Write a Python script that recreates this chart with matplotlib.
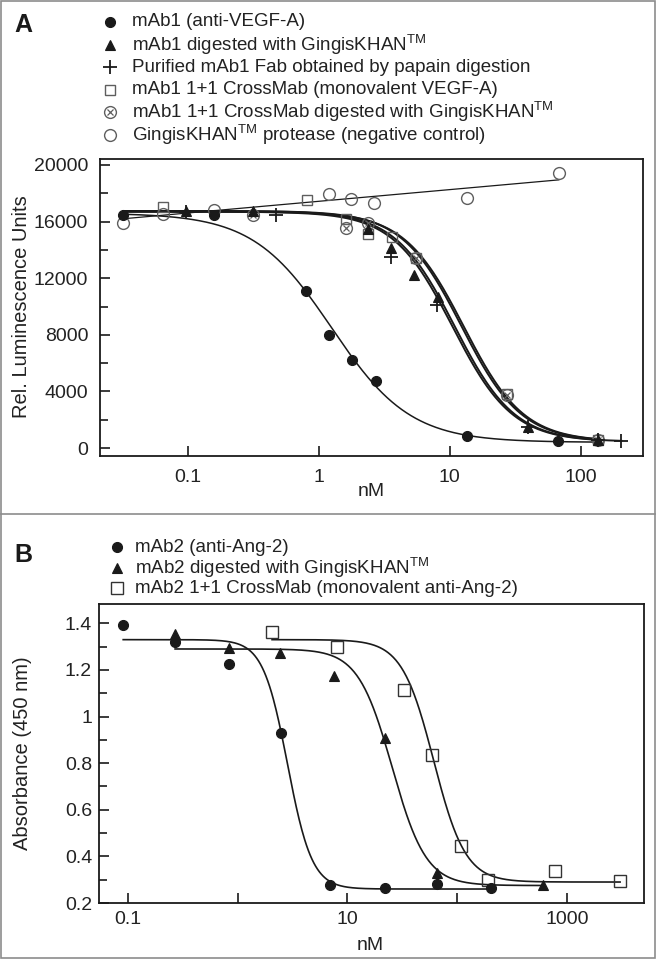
import matplotlib
matplotlib.use('Agg')
import matplotlib.pyplot as plt
from matplotlib.lines import Line2D
from matplotlib.patches import Rectangle
from matplotlib.ticker import FixedLocator, MultipleLocator, NullLocator
import numpy as np

plt.rcParams['font.family'] = ['Liberation Sans', 'DejaVu Sans']
plt.rcParams['mathtext.fontset'] = 'custom'
plt.rcParams['mathtext.rm'] = 'Liberation Sans'
plt.rcParams['mathtext.it'] = 'Liberation Sans:italic'
plt.rcParams['mathtext.bf'] = 'Liberation Sans:bold'

# --- palette ---
INK   = '#1a1a1a'
GREY  = '#5e5e5e'
FRAME = '#8c8c8c'
W, H  = 657, 960

# ---------------- Panel A data (nM vs RLU) ----------------
a_mab1_x = [0.032, 0.158, 0.80, 1.19, 1.79, 2.71, 13.5, 66.8]
a_mab1_y = [16450, 16450, 11070, 7960, 6220, 4760, 850, 520]

a_dig_x = [0.097, 0.316, 2.38, 3.58, 5.33, 8.13, 39.8, 135]
a_dig_y = [16780, 16750, 15480, 14110, 12230, 10650, 1500, 560]

a_fab_x = [0.097, 0.472, 3.53, 8.05, 39.8, 135, 204]
a_fab_y = [16700, 16460, 13520, 10110, 1500, 560, 520]

a_cm_x = [0.065, 0.81, 1.6, 2.38, 3.62, 5.5, 27.4, 135]
a_cm_y = [17010, 17530, 16160, 15120, 14930, 13400, 3816, 560]

a_cmd_x = [0.316, 1.6, 2.38, 5.5, 27.4, 135]
a_cmd_y = [16460, 15530, 15880, 13450, 3780, 560]

a_neg_x = [0.032, 0.065, 0.158, 1.2, 1.77, 2.66, 13.5, 68]
a_neg_y = [15920, 16540, 16820, 17950, 17575, 17290, 17650, 19460]

# 4PL fit parameters: top, bottom, EC50, hill, x-range of the drawn curve
a_fit_mab1 = [16600, 400, 1.25, 1.45, 0.032, 135]
a_fit_dig  = [16750, 450, 10.9, 1.9, 0.032, 135]
a_fit_fab  = [16700, 450, 10.5, 1.9, 0.032, 204]
a_fit_cm   = [16750, 450, 12.3, 1.9, 0.032, 135]
a_fit_cmd  = [16700, 450, 12.8, 1.9, 0.032, 135]
# linear fit of negative control vs log10(nM): intercept, slope, x-range
a_fit_neg  = [17435, 826, 0.032, 68]

# ---------------- Panel B data (nM vs absorbance) ----------------
b_mab2_x = [0.091, 0.27, 0.84, 2.5, 7.0, 22, 66, 201]
b_mab2_y = [1.393, 1.322, 1.226, 0.929, 0.278, 0.264, 0.281, 0.264]

b_dig_x = [0.27, 0.84, 2.44, 7.6, 21.8, 66, 603]
b_dig_y = [1.355, 1.293, 1.271, 1.174, 0.907, 0.329, 0.278]

b_cm_x = [2.06, 8.03, 33, 59, 107, 190, 769, 3030]
b_cm_y = [1.361, 1.30, 1.114, 0.833, 0.443, 0.30, 0.338, 0.293]

b_fit_mab2 = [1.33, 0.26, 2.85, 3.9, 0.091, 201]
b_fit_dig  = [1.29, 0.275, 25.5, 2.8, 0.27, 603]
b_fit_cm   = [1.33, 0.29, 61, 3.0, 2.06, 3030]

TM = r'$^{\mathrm{TM}}$'
a_labels = ['mAb1 (anti-VEGF-A)',
            'mAb1 digested with GingisKHAN' + TM,
            'Purified mAb1 Fab obtained by papain digestion',
            'mAb1 1+1 CrossMab (monovalent VEGF-A)',
            'mAb1 1+1 CrossMab digested with GingisKHAN' + TM,
            'GingisKHAN' + TM + ' protease (negative control)']
b_labels = ['mAb2 (anti-Ang-2)',
            'mAb2 digested with GingisKHAN' + TM,
            'mAb2 1+1 CrossMab (monovalent anti-Ang-2)']


def four_pl(p):
    top, bottom, ec50, hill, lo, hi = p
    x = np.logspace(np.log10(lo), np.log10(hi), 400)
    return x, bottom + (top - bottom) / (1 + (x / ec50) ** hill)


DOT   = dict(marker='o', ms=7.2, mfc=INK, mec=INK, mew=0.8)
TRI   = dict(marker='^', ms=7, mfc=INK, mec=INK, mew=0.8)
PLUS  = dict(marker='+', ms=10, mec=INK, mew=1.3)
SQ    = dict(marker='s', ms=7.5, mfc='none', mec=GREY, mew=1.0)
RING  = dict(marker='o', ms=8.5, mfc='none', mec=GREY, mew=1.0)
XIN   = dict(marker='x', ms=5, mec=GREY, mew=0.9)


def pts(ax, x, y, style):
    ax.plot(x, y, linestyle='none', zorder=4, clip_on=False, **style)


fig = plt.figure(figsize=(W / 100, H / 100), dpi=100)
fig.patch.set_facecolor('white')


def fx(px):
    return px / W


def fy(py):
    return 1 - py / H


def style_axes(ax, ypad, xpad):
    for s in ax.spines.values():
        s.set_linewidth(1.3)
        s.set_color(INK)
    ax.tick_params(which='both', direction='in', width=1.2, colors=INK,
                   labelsize=14, labelcolor='#222222')
    ax.tick_params(axis='y', which='major', length=7, pad=ypad)
    ax.tick_params(axis='y', which='minor', length=6)
    ax.tick_params(axis='x', which='major', length=7, pad=xpad)


# ================= Panel A =================
axA = fig.add_axes([fx(100), fy(456), (643 - 100) / W, (456 - 159) / H])
axA.set_xscale('log')
axA.set_xlim(0.0213, 299)
axA.set_ylim(-565, 20424)

for p in [a_fit_mab1]:
    x, y = four_pl(p)
    axA.plot(x, y, color=INK, lw=1.1, zorder=2)
for p in [a_fit_dig, a_fit_fab, a_fit_cm, a_fit_cmd]:
    x, y = four_pl(p)
    axA.plot(x, y, color=INK, lw=1.4, zorder=2)
nx = np.logspace(np.log10(a_fit_neg[2]), np.log10(a_fit_neg[3]), 50)
axA.plot(nx, a_fit_neg[0] + a_fit_neg[1] * np.log10(nx), color=INK, lw=0.9, zorder=2)

pts(axA, a_neg_x, a_neg_y, RING)
pts(axA, a_cm_x, a_cm_y, SQ)
pts(axA, a_cmd_x, a_cmd_y, RING)
pts(axA, a_cmd_x, a_cmd_y, XIN)
pts(axA, a_mab1_x, a_mab1_y, DOT)
pts(axA, a_dig_x, a_dig_y, TRI)
pts(axA, a_fab_x, a_fab_y, PLUS)

axA.xaxis.set_major_locator(FixedLocator([0.1, 1, 10, 100]))
axA.xaxis.set_minor_locator(NullLocator())
axA.set_xticklabels(['0.1', '1', '10', '100'])
axA.yaxis.set_major_locator(FixedLocator([0, 4000, 8000, 12000, 16000, 20000]))
axA.yaxis.set_minor_locator(MultipleLocator(2000))
style_axes(axA, ypad=8.5, xpad=9)

fig.text(fx(22), fy(307), 'Rel. Luminescence Units', rotation=90,
         ha='center', va='center', fontsize=14.5, color='#222222')
fig.text(fx(371), fy(492), 'nM', ha='center', va='center', fontsize=14, color='#222222')
fig.text(fx(23), fy(25), 'A', ha='center', va='center', fontsize=18,
         fontweight='bold', color=INK)

# ================= Panel B =================
axB = fig.add_axes([fx(99), fy(903), (644 - 99) / W, (903 - 604) / H])
axB.set_xscale('log')
axB.set_xlim(0.0548, 5000)
axB.set_ylim(0.2, 1.483)

for p in [b_fit_mab2, b_fit_dig, b_fit_cm]:
    x, y = four_pl(p)
    axB.plot(x, y, color=INK, lw=1.2, zorder=2)

SQB = dict(SQ, ms=8.5, mec='#333333')
pts(axB, b_cm_x, b_cm_y, SQB)
pts(axB, b_mab2_x, b_mab2_y, DOT)
pts(axB, b_dig_x, b_dig_y, TRI)

axB.xaxis.set_major_locator(FixedLocator([0.1, 1, 10, 100, 1000]))
axB.xaxis.set_minor_locator(NullLocator())
axB.set_xticklabels(['0.1', '', '10', '', '1000'])
axB.yaxis.set_major_locator(FixedLocator([0.2, 0.4, 0.6, 0.8, 1.0, 1.2, 1.4]))
axB.set_yticklabels(['0.2', '0.4', '0.6', '0.8', '1', '1.2', '1.4'])
axB.yaxis.set_minor_locator(FixedLocator([0.3, 0.5, 0.7, 0.9, 1.1, 1.3]))
style_axes(axB, ypad=5, xpad=6)

fig.text(fx(23), fy(753), 'Absorbance (450 nm)', rotation=90,
         ha='center', va='center', fontsize=14.5, color='#222222')
fig.text(fx(370), fy(945), 'nM', ha='center', va='center', fontsize=14, color='#222222')
fig.text(fx(23), fy(555), 'B', ha='center', va='center', fontsize=18,
         fontweight='bold', color=INK)


# ================= legends (drawn by hand) =================
def key(px, py, style):
    fig.add_artist(Line2D([fx(px)], [fy(py)], transform=fig.transFigure,
                          linestyle='none', **style))


a_keys = [[DOT], [TRI], [PLUS], [SQ], [RING, XIN], [RING]]
for i, (lab, ks) in enumerate(zip(a_labels, a_keys)):
    yy = 22 + 22.6 * i
    for k in ks:
        key(110, yy, k)
    fig.text(fx(132), fy(yy), lab, ha='left', va='center', fontsize=13.5, color='#222222')

b_keys = [[DOT], [TRI], [SQB]]
for i, (lab, ks) in enumerate(zip(b_labels, b_keys)):
    yy = 547 + 20.6 * i
    for k in ks:
        key(117, yy, k)
    fig.text(fx(135), fy(yy), lab, ha='left', va='center', fontsize=13.5, color='#222222')

# outer frame and divider between panels
fig.add_artist(Rectangle((fx(1), fy(958)), fx(654), (957) / H, transform=fig.transFigure,
                         fill=False, edgecolor=FRAME, lw=1.2))
fig.add_artist(Line2D([fx(1), fx(655)], [fy(514), fy(514)], transform=fig.transFigure,
                      color=FRAME, lw=1.2))

fig.savefig('out.png', dpi=100, facecolor='white')
